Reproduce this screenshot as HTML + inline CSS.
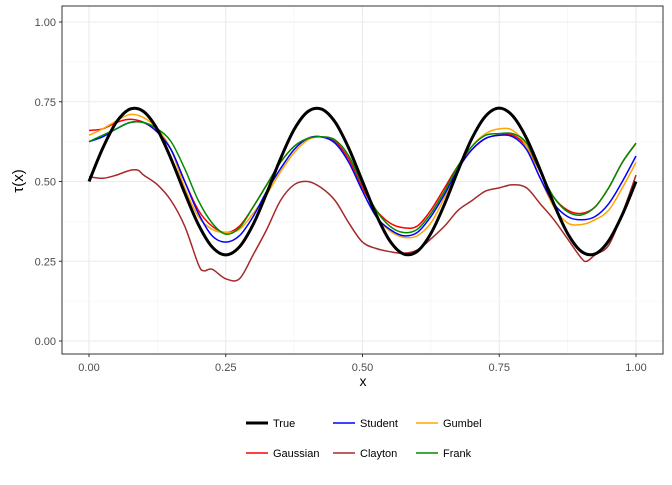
<!DOCTYPE html>
<html><head><meta charset="utf-8"><style>
body{margin:0;background:#fff}
svg text{font-family:"Liberation Sans",sans-serif}
</style></head><body>
<svg id="chart" width="672" height="480" xmlns="http://www.w3.org/2000/svg">
<rect x="0" y="0" width="672" height="480" fill="#fff"/>
<g id="grid"></g>
<g id="series"></g>
<rect x="62" y="6" width="601" height="348" fill="none" stroke="#333" stroke-width="1"/>
<g id="axes"></g>
<text x="363" y="386" font-size="14" text-anchor="middle">x</text>
<text transform="translate(23,181) rotate(-90)" font-size="15" text-anchor="middle">τ(x)</text>
<g id="legend"></g>
</svg>
<script>
const xs = [0,0.025,0.05,0.075,0.1,0.125,0.15,0.175,0.2,0.225,0.25,0.275,0.3,0.325,0.35,0.375,0.4,0.425,0.45,0.475,0.5,0.525,0.55,0.575,0.6,0.625,0.65,0.675,0.7,0.725,0.75,0.775,0.8,0.825,0.85,0.875,0.9,0.925,0.95,0.975,1];
const trueVals = [0.5,0.604,0.686,0.727,0.719,0.663,0.571,0.464,0.365,0.295,0.27,0.295,0.365,0.464,0.571,0.663,0.719,0.727,0.686,0.604,0.5,0.396,0.314,0.273,0.281,0.337,0.429,0.536,0.635,0.705,0.73,0.705,0.635,0.536,0.429,0.337,0.281,0.273,0.314,0.396,0.5];
const gaussianVals = [0.66,0.665,0.685,0.695,0.685,0.655,0.6,0.5,0.41,0.36,0.34,0.36,0.42,0.49,0.56,0.61,0.635,0.64,0.625,0.57,0.48,0.41,0.37,0.355,0.36,0.41,0.48,0.55,0.6,0.635,0.645,0.645,0.61,0.53,0.45,0.41,0.4,0.42,0.48,0.56,0.62];
const studentVals = [0.625,0.64,0.665,0.685,0.685,0.655,0.6,0.5,0.4,0.33,0.31,0.33,0.39,0.47,0.54,0.6,0.635,0.64,0.62,0.56,0.47,0.39,0.35,0.33,0.34,0.39,0.46,0.54,0.6,0.635,0.645,0.64,0.6,0.51,0.43,0.39,0.38,0.39,0.43,0.5,0.58];
const gumbelVals = [0.645,0.665,0.69,0.71,0.7,0.665,0.6,0.48,0.39,0.35,0.34,0.35,0.4,0.46,0.53,0.59,0.63,0.64,0.62,0.56,0.47,0.39,0.345,0.325,0.33,0.37,0.45,0.54,0.61,0.65,0.665,0.66,0.61,0.51,0.42,0.37,0.365,0.38,0.41,0.48,0.56];
const frankVals = [0.625,0.645,0.665,0.685,0.685,0.665,0.625,0.54,0.44,0.37,0.335,0.355,0.42,0.49,0.56,0.61,0.635,0.64,0.63,0.58,0.49,0.41,0.36,0.34,0.35,0.4,0.47,0.55,0.61,0.645,0.65,0.65,0.62,0.53,0.45,0.405,0.395,0.42,0.48,0.56,0.62];
const claytonX = [0,0.025,0.05,0.075,0.09,0.1,0.125,0.15,0.175,0.2,0.21,0.225,0.25,0.275,0.3,0.325,0.35,0.375,0.4,0.425,0.45,0.475,0.5,0.525,0.55,0.575,0.6,0.625,0.65,0.675,0.7,0.725,0.75,0.775,0.8,0.825,0.85,0.875,0.9,0.91,0.925,0.95,0.975,1];
const claytonVals = [0.515,0.51,0.52,0.535,0.535,0.52,0.49,0.44,0.36,0.24,0.22,0.225,0.195,0.195,0.27,0.35,0.44,0.49,0.5,0.48,0.44,0.37,0.31,0.29,0.28,0.275,0.285,0.32,0.36,0.41,0.44,0.47,0.48,0.49,0.48,0.43,0.38,0.32,0.26,0.25,0.27,0.3,0.4,0.52];
const xTicks = [0,0.25,0.5,0.75,1];
const xTickLabels = ["0.00","0.25","0.50","0.75","1.00"];
const yTicks = [0,0.25,0.5,0.75,1];
const yTickLabels = ["0.00","0.25","0.50","0.75","1.00"];

const NS="http://www.w3.org/2000/svg";
const sx = v => 89 + v*547;
const sy = v => 341 - v*319;
function mk(tag, parent, attrs){const e=document.createElementNS(NS,tag);for(const k in attrs)e.setAttribute(k,attrs[k]);parent.appendChild(e);return e;}
const grid=document.getElementById('grid'), axes=document.getElementById('axes'), ser=document.getElementById('series');
for(let i=0;i<xTicks.length;i++){
  const g=mk('line',grid,{x1:sx(xTicks[i]),x2:sx(xTicks[i]),y1:6,y2:354,stroke:'#ebebeb','stroke-width':1.1});
  
  
  if(i<xTicks.length-1){const m=mk('line',grid,{x1:sx((xTicks[i]+xTicks[i+1])/2),x2:sx((xTicks[i]+xTicks[i+1])/2),y1:6,y2:354,stroke:'#f3f3f3','stroke-width':0.6});
  
  }
  const t=mk('line',axes,{x1:sx(xTicks[i]),x2:sx(xTicks[i]),y1:354,y2:357,stroke:'#333'});
  
  
  const l=mk('text',axes,{x:sx(xTicks[i]),y:371,'font-size':11,fill:'#4d4d4d','text-anchor':'middle'});l.textContent=xTickLabels[i];
  
  
}
for(let i=0;i<yTicks.length;i++){
  const g=mk('line',grid,{x1:62,x2:663,y1:sy(yTicks[i]),y2:sy(yTicks[i]),stroke:'#ebebeb','stroke-width':1.1});
  
  
  if(i<yTicks.length-1){const m=mk('line',grid,{x1:62,x2:663,y1:sy((yTicks[i]+yTicks[i+1])/2),y2:sy((yTicks[i]+yTicks[i+1])/2),stroke:'#f3f3f3','stroke-width':0.6});
  
  }
  const t=mk('line',axes,{x1:59,x2:62,y1:sy(yTicks[i]),y2:sy(yTicks[i]),stroke:'#333'});
  
  
  const l=mk('text',axes,{x:56,y:sy(yTicks[i])+4,'font-size':11,fill:'#4d4d4d','text-anchor':'end'});l.textContent=yTickLabels[i];
  
  
}
function smoothPath(X,Y){
  const p=X.map((x,i)=>[sx(x),sy(Y[i])]);
  let d='M'+p[0][0]+','+p[0][1];
  for(let i=0;i<p.length-1;i++){
    const p0=p[Math.max(0,i-1)],p1=p[i],p2=p[i+1],p3=p[Math.min(p.length-1,i+2)];
    const c1=[p1[0]+(p2[0]-p0[0])/6,p1[1]+(p2[1]-p0[1])/6],c2=[p2[0]-(p3[0]-p1[0])/6,p2[1]-(p3[1]-p1[1])/6];
    d+=' C'+c1[0]+','+c1[1]+' '+c2[0]+','+c2[1]+' '+p2[0]+','+p2[1];
  }
  return d;
}
const seriesList=[
 ['clayton-line',claytonX,claytonVals,'#a52a2a',1.5],
 ['gaussian-line',xs,gaussianVals,'#ff0000',1.5],
 ['gumbel-line',xs,gumbelVals,'#ffa500',1.5],
 ['student-line',xs,studentVals,'#0000ff',1.5],
 ['frank-line',xs,frankVals,'#008b00',1.5],
 ['true-line',xs,trueVals,'#000000',3]
];
for(const s of seriesList){
  const p=mk('path',ser,{d:smoothPath(s[1],s[2]),fill:'none',stroke:s[3],'stroke-width':s[4],'stroke-linejoin':'round'});
  
  
}
const leg=document.getElementById('legend');
const legendItems=[['True','#000',3,246,423],['Student','#0000ff',1.5,333,423],['Gumbel','#ffa500',1.5,416,423],['Gaussian','#ff0000',1.5,246,453],['Clayton','#a52a2a',1.5,333,453],['Frank','#008b00',1.5,416,453]];
for(const it of legendItems){
  const g=mk('g',leg,{});
  
  
  mk('line',g,{x1:it[3],x2:it[3]+22,y1:it[4],y2:it[4],stroke:it[1],'stroke-width':it[2]});
  const t=mk('text',g,{x:it[3]+27,y:it[4]+4,'font-size':11,fill:'#000'});t.textContent=it[0];
}
</script>
</body></html>
